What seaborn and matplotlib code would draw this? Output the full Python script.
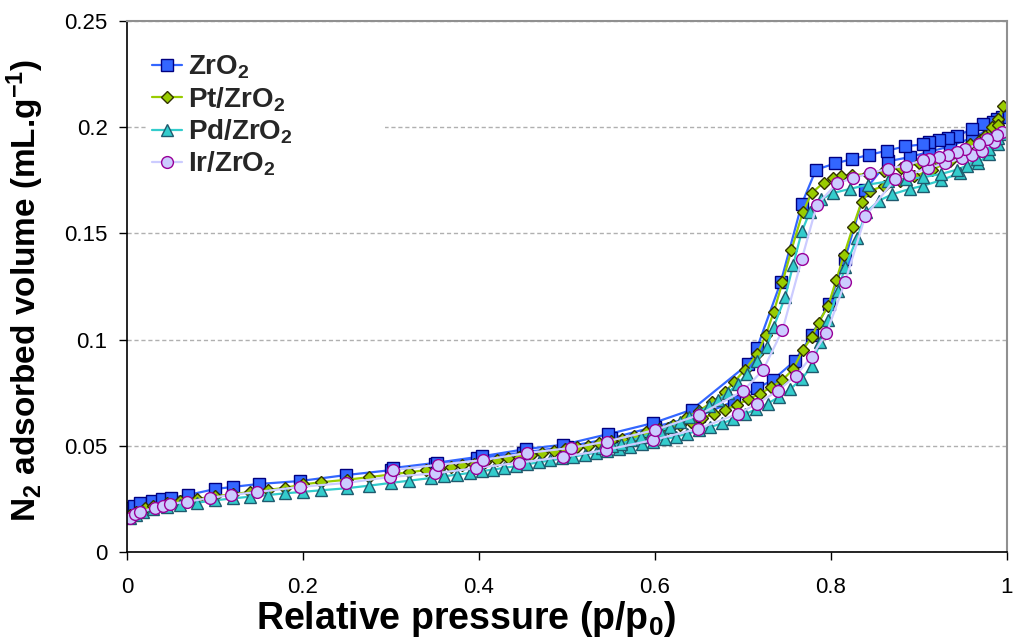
import matplotlib
matplotlib.use("Agg")
import matplotlib.pyplot as plt
import seaborn as sns
import pandas as pd

# ---------------- data ----------------
x_ticks = [0, 0.2, 0.4, 0.6, 0.8, 1.0]
x_tick_labels = ["0", "0.2", "0.4", "0.6", "0.8", "1"]
y_ticks = [0, 0.05, 0.10, 0.15, 0.20, 0.25]
y_tick_labels = ["0", "0.05", "0.1", "0.15", "0.2", "0.25"]

series_names = ["ZrO$_\\mathbf{2}$", "Pt/ZrO$_\\mathbf{2}$", "Pd/ZrO$_\\mathbf{2}$", "Ir/ZrO$_\\mathbf{2}$"]

# ZrO2 adsorption / desorption
zro2_p_ads = [0.002, 0.008, 0.015, 0.028, 0.040, 0.050, 0.069, 0.100, 0.120, 0.150, 0.197, 0.249, 0.300,
              0.350, 0.398, 0.450, 0.500, 0.550, 0.600, 0.650, 0.690, 0.716, 0.734, 0.759, 0.778, 0.798,
              0.816, 0.839, 0.865, 0.890, 0.912, 0.935, 0.960, 0.980, 0.995]
zro2_v_ads = [0.0207, 0.0217, 0.0230, 0.0240, 0.0250, 0.0254, 0.0268, 0.0296, 0.0306, 0.0320, 0.0334, 0.0362,
              0.0385, 0.0412, 0.0440, 0.0468, 0.0495, 0.0535, 0.0590, 0.0640, 0.0710, 0.0770, 0.0810, 0.0900,
              0.1020, 0.1170, 0.1380, 0.1705, 0.1840, 0.1860, 0.1885, 0.1910, 0.1950, 0.1990, 0.2050]
zro2_p_des = [0.989, 0.984, 0.973, 0.960, 0.943, 0.933, 0.923, 0.912, 0.905, 0.884, 0.864, 0.843, 0.824,
              0.805, 0.783, 0.767, 0.743, 0.716, 0.706, 0.642, 0.598, 0.547, 0.496, 0.454, 0.403, 0.352, 0.302]
zro2_v_des = [0.2040, 0.2025, 0.2015, 0.1990, 0.1960, 0.1950, 0.1940, 0.1930, 0.1920, 0.1910, 0.1890, 0.1870,
              0.1850, 0.1830, 0.1800, 0.1640, 0.1270, 0.0960, 0.0885, 0.0670, 0.0607, 0.0555, 0.0505, 0.0485,
              0.0450, 0.0420, 0.0395]

# Pt/ZrO2
pt_p_ads = [0.003, 0.010, 0.020, 0.030, 0.045, 0.060, 0.080, 0.100, 0.120, 0.140, 0.160, 0.180, 0.200, 0.220,
            0.250, 0.275, 0.300, 0.320, 0.340, 0.355, 0.368, 0.381, 0.394, 0.407, 0.420, 0.433, 0.446, 0.459,
            0.472, 0.485, 0.498, 0.511, 0.524, 0.537, 0.550, 0.563, 0.576, 0.589, 0.602, 0.615, 0.628, 0.641,
            0.654, 0.667, 0.680, 0.693, 0.706, 0.719, 0.732, 0.745, 0.757, 0.768, 0.778, 0.786, 0.797, 0.806,
            0.815, 0.825, 0.835, 0.845, 0.860, 0.878, 0.895, 0.915, 0.935, 0.955, 0.970, 0.983, 0.990, 0.996]
pt_v_ads = [0.0175, 0.0190, 0.0205, 0.0215, 0.0228, 0.0238, 0.0250, 0.0262, 0.0272, 0.0282, 0.0292, 0.0302,
            0.0318, 0.0328, 0.0340, 0.0352, 0.0365, 0.0375, 0.0385, 0.0392, 0.0400, 0.0408, 0.0416, 0.0424,
            0.0432, 0.0440, 0.0448, 0.0456, 0.0465, 0.0474, 0.0483, 0.0492, 0.0501, 0.0511, 0.0521, 0.0532,
            0.0544, 0.0556, 0.0569, 0.0583, 0.0598, 0.0614, 0.0631, 0.0650, 0.0670, 0.0693, 0.0718, 0.0745,
            0.0775, 0.0810, 0.0860, 0.0950, 0.1010, 0.1080, 0.1160, 0.1280, 0.1400, 0.1530, 0.1650, 0.1700,
            0.1725, 0.1745, 0.1770, 0.1800, 0.1840, 0.1890, 0.1940, 0.2000, 0.2040, 0.2100]
pt_p_des = [0.990, 0.975, 0.958, 0.940, 0.920, 0.900, 0.880, 0.860, 0.842, 0.824, 0.812, 0.802, 0.792, 0.778,
            0.768, 0.755, 0.745, 0.735, 0.726, 0.716, 0.702, 0.690, 0.680, 0.665, 0.650, 0.635, 0.620, 0.605,
            0.590]
pt_v_des = [0.2010, 0.1960, 0.1920, 0.1880, 0.1850, 0.1830, 0.1810, 0.1795, 0.1780, 0.1775, 0.1770, 0.1760,
            0.1740, 0.1690, 0.1600, 0.1420, 0.1270, 0.1130, 0.1020, 0.0930, 0.0857, 0.0800, 0.0755, 0.0705,
            0.0665, 0.0630, 0.0600, 0.0580, 0.0565]

# Pd/ZrO2
pd_p_ads = [0.003, 0.010, 0.018, 0.030, 0.045, 0.060, 0.080, 0.100, 0.120, 0.140, 0.160, 0.180, 0.200, 0.220,
            0.250, 0.275, 0.300, 0.320, 0.345, 0.360, 0.375, 0.390, 0.403, 0.416, 0.429, 0.442, 0.455, 0.468,
            0.481, 0.494, 0.507, 0.520, 0.533, 0.546, 0.559, 0.572, 0.585, 0.598, 0.611, 0.624, 0.637, 0.650,
            0.663, 0.676, 0.689, 0.702, 0.715, 0.728, 0.741, 0.754, 0.767, 0.778, 0.788, 0.797, 0.808, 0.816,
            0.830, 0.840, 0.855, 0.870, 0.890, 0.905, 0.925, 0.947, 0.967, 0.980, 0.990, 0.997]
pd_v_ads = [0.0160, 0.0175, 0.0190, 0.0200, 0.0212, 0.0222, 0.0232, 0.0243, 0.0252, 0.0260, 0.0268, 0.0276,
            0.0283, 0.0290, 0.0300, 0.0312, 0.0325, 0.0335, 0.0348, 0.0356, 0.0364, 0.0372, 0.0380, 0.0388,
            0.0396, 0.0404, 0.0413, 0.0422, 0.0431, 0.0440, 0.0449, 0.0458, 0.0467, 0.0476, 0.0486, 0.0496,
            0.0507, 0.0518, 0.0530, 0.0543, 0.0557, 0.0572, 0.0588, 0.0605, 0.0625, 0.0648, 0.0672, 0.0698,
            0.0730, 0.0768, 0.0815, 0.0875, 0.0990, 0.1090, 0.1230, 0.1340, 0.1480, 0.1600, 0.1655, 0.1685,
            0.1710, 0.1725, 0.1750, 0.1785, 0.1830, 0.1875, 0.1920, 0.1970]
pd_p_des = [0.990, 0.980, 0.966, 0.955, 0.943, 0.925, 0.905, 0.885, 0.865, 0.842, 0.822, 0.802, 0.789, 0.776,
            0.767, 0.757, 0.748, 0.735, 0.727, 0.716, 0.705, 0.694, 0.683, 0.672, 0.661, 0.650, 0.639, 0.628,
            0.617, 0.606, 0.595, 0.584, 0.573, 0.562, 0.551, 0.540]
pd_v_des = [0.1950, 0.1900, 0.1850, 0.1820, 0.1800, 0.1780, 0.1765, 0.1755, 0.1745, 0.1730, 0.1710, 0.1690,
            0.1660, 0.1600, 0.1510, 0.1350, 0.1200, 0.1060, 0.0965, 0.0900, 0.0840, 0.0790, 0.0750, 0.0715,
            0.0685, 0.0660, 0.0635, 0.0610, 0.0590, 0.0570, 0.0555, 0.0540, 0.0525, 0.0510, 0.0500, 0.0490]

# Ir/ZrO2
ir_p_ads = [0.003, 0.009, 0.015, 0.032, 0.041, 0.049, 0.068, 0.094, 0.118, 0.148, 0.197, 0.249, 0.299, 0.350,
            0.397, 0.445, 0.495, 0.544, 0.598, 0.649, 0.694, 0.716, 0.740, 0.760, 0.778, 0.795, 0.816, 0.839,
            0.873, 0.889, 0.910, 0.930, 0.949, 0.960, 0.972, 0.985, 0.995]
ir_v_ads = [0.0160, 0.0178, 0.0190, 0.0207, 0.0217, 0.0226, 0.0236, 0.0254, 0.0268, 0.0282, 0.0306, 0.0325,
            0.0353, 0.0370, 0.0395, 0.0420, 0.0447, 0.0480, 0.0527, 0.0580, 0.0650, 0.0697, 0.0760, 0.0830,
            0.0920, 0.1030, 0.1270, 0.1580, 0.1756, 0.1775, 0.1810, 0.1830, 0.1855, 0.1870, 0.1890, 0.1930,
            0.1980]
ir_p_des = [0.989, 0.978, 0.968, 0.952, 0.943, 0.933, 0.923, 0.912, 0.905, 0.885, 0.865, 0.844, 0.825, 0.807,
            0.784, 0.767, 0.745, 0.723, 0.700, 0.650, 0.600, 0.545, 0.505, 0.455, 0.405, 0.353, 0.302]
ir_v_des = [0.1963, 0.1944, 0.1921, 0.1897, 0.1883, 0.1869, 0.1860, 0.1850, 0.1846, 0.1820, 0.1805, 0.1784,
            0.1760, 0.1737, 0.1634, 0.1380, 0.1045, 0.0857, 0.0758, 0.0645, 0.0574, 0.0520, 0.0490, 0.0466,
            0.0433, 0.0410, 0.0386]

# ---------------- style ----------------
sns.set_theme(style="white")
plt.rcParams["font.family"] = ["Liberation Sans", "DejaVu Sans"]
plt.rcParams["mathtext.fontset"] = "custom"
plt.rcParams["mathtext.rm"] = "Liberation Sans"
plt.rcParams["mathtext.bf"] = "Liberation Sans:bold"
plt.rcParams["mathtext.it"] = "Liberation Sans:italic"
plt.rcParams["xtick.labelsize"] = 16
plt.rcParams["ytick.labelsize"] = 16

fig = plt.figure(figsize=(10.16, 6.41), dpi=100)
ax = fig.add_axes([0.125, 0.139, 0.866, 0.828])

styles = [
    dict(marker="s", markersize=8, color="#3366FF", markerfacecolor="#3366FF", markeredgecolor="#000080"),
    dict(marker="D", markersize=6.5, color="#99CC00", markerfacecolor="#99CC00", markeredgecolor="#333300"),
    dict(marker="^", markersize=8.5, color="#33CCCC", markerfacecolor="#33CCCC", markeredgecolor="#1F5A6E"),
    dict(marker="o", markersize=8.5, color="#CCCCFF", markerfacecolor="#CCCCFF", markeredgecolor="#990099"),
]

all_series = [
    (zro2_p_ads + zro2_p_des, zro2_v_ads + zro2_v_des),
    (pt_p_ads + pt_p_des, pt_v_ads + pt_v_des),
    (pd_p_ads + pd_p_des, pd_v_ads + pd_v_des),
    (ir_p_ads + ir_p_des, ir_v_ads + ir_v_des),
]

handles = []
for (px, vy), name, st in zip(all_series, series_names, styles):
    df = pd.DataFrame({"p": px, "v": vy})
    sns.lineplot(data=df, x="p", y="v", sort=False, estimator=None, ax=ax,
                 linewidth=1.6, markeredgewidth=1.0, label=name, legend=False, **st)
    handles.append(ax.get_lines()[-1])

ax.set_xlim(0, 1)
ax.set_ylim(0, 0.25)
ax.set_xticks(x_ticks)
ax.set_xticklabels(x_tick_labels, fontsize=16)
ax.set_yticks(y_ticks)
ax.set_yticklabels(y_tick_labels, fontsize=16)
ax.tick_params(axis="both", which="major", direction="out", length=6, width=1,
               color="black", labelcolor="black", left=True, bottom=True)
ax.tick_params(axis="y", pad=8)
ax.tick_params(axis="x", pad=12)

ax.yaxis.grid(True, linestyle=(0, (3, 2)), color="#B0B0B0", linewidth=1.0)
ax.xaxis.grid(False)
ax.set_axisbelow(True)

for side in ["left", "bottom"]:
    ax.spines[side].set_color("black")
    ax.spines[side].set_linewidth(1.2)
for side in ["top", "right"]:
    ax.spines[side].set_color("#909090")
    ax.spines[side].set_linewidth(1.5)

ax.set_xlabel("Relative pressure (p/p$_\\mathbf{0}$)", fontsize=27, fontweight="bold", color="black")
ax.xaxis.set_label_coords(0.386, -0.089)
ax.set_ylabel("N$_\\mathbf{2}$ adsorbed volume (mL.g$^\\mathbf{-1}$)", fontsize=24, fontweight="bold",
              color="black")
ax.yaxis.set_label_coords(-0.092, 0.493)

leg = ax.legend(handles=handles, labels=series_names, loc="upper left",
                bbox_to_anchor=(0.022, 0.949, 0.271, 0.0), mode="expand",
                prop={"weight": "bold", "size": 20}, frameon=True, facecolor="white",
                edgecolor="white", framealpha=1.0, handlelength=1.1, handletextpad=0.2,
                labelspacing=0.14, borderpad=0.2, borderaxespad=0.0)
leg.get_frame().set_linewidth(0)

fig.savefig("out.png", dpi=100)
